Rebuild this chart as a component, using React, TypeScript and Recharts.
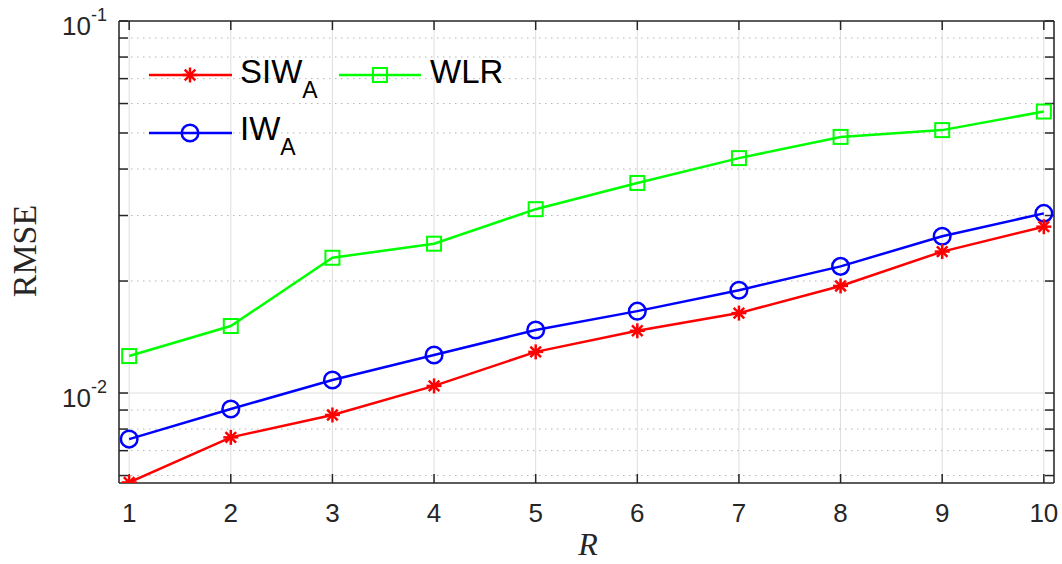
import React from "react";
import {
  CartesianGrid,
  Line,
  LineChart,
  ReferenceLine,
  XAxis,
  YAxis,
} from "recharts";

const rValues = [1, 2, 3, 4, 5, 6, 7, 8, 9, 10];
const siwA = [0.00575, 0.0076, 0.00873, 0.01045, 0.0129, 0.0147, 0.0164, 0.0194, 0.024, 0.028];
const iwA = [0.00752, 0.00906, 0.01084, 0.01265, 0.01477, 0.0166, 0.0189, 0.0219, 0.0264, 0.0304];
const wlr = [0.01257, 0.01514, 0.0231, 0.0252, 0.0312, 0.0367, 0.0428, 0.0488, 0.0509, 0.0571];

const yMajor = [0.01, 0.1];
const yMinor = [0.006, 0.007, 0.008, 0.009, 0.02, 0.03, 0.04, 0.05, 0.06, 0.07, 0.08, 0.09];
const yTicks = [...yMinor, ...yMajor].sort((a, b) => a - b);

const data = rValues.map((r, i) => ({ r, siw: siwA[i], iw: iwA[i], wlr: wlr[i] }));

const W = 1062;
const H = 564;
const AXIS = "#262626";
const SANS = "'Liberation Sans', Arial, Helvetica, sans-serif";
const SERIF = "'Liberation Serif', 'Times New Roman', serif";

const RED = "#ff0000";
const BLUE = "#0000ff";
const GREEN = "#00ff00";

function Star({ cx, cy, color }: { cx: number; cy: number; color: string }) {
  const a = 7.5;
  const d = 5.3;
  return (
    <g stroke={color} strokeWidth={2.5} strokeLinecap="butt">
      <line x1={cx - a} y1={cy} x2={cx + a} y2={cy} />
      <line x1={cx} y1={cy - a} x2={cx} y2={cy + a} />
      <line x1={cx - d} y1={cy - d} x2={cx + d} y2={cy + d} />
      <line x1={cx - d} y1={cy + d} x2={cx + d} y2={cy - d} />
    </g>
  );
}

function Ring({ cx, cy, color }: { cx: number; cy: number; color: string }) {
  return <circle cx={cx} cy={cy} r={8.3} fill="none" stroke={color} strokeWidth={2.5} />;
}

function Box({ cx, cy, color }: { cx: number; cy: number; color: string }) {
  return (
    <rect x={cx - 7} y={cy - 7} width={14} height={14} fill="none" stroke={color} strokeWidth={2} />
  );
}

const starDot = (p: any) => <Star key={`s${p.index}`} cx={p.cx} cy={p.cy} color={RED} />;
const ringDot = (p: any) => <Ring key={`c${p.index}`} cx={p.cx} cy={p.cy} color={BLUE} />;
const boxDot = (p: any) => <Box key={`b${p.index}`} cx={p.cx} cy={p.cy} color={GREEN} />;

function LeftTick(props: any) {
  const { x, y, payload } = props;
  const v = payload.value;
  const exp = Math.round(Math.log10(v));
  if (Math.abs(Math.pow(10, exp) - v) > 1e-9) return <g />;
  return (
    <text x={x} y={y + 14} textAnchor="end" fill={AXIS} fontFamily={SANS} fontSize={26}>
      <tspan>10</tspan>
      <tspan dy={-14} fontSize={18}>{String(exp)}</tspan>
    </text>
  );
}

function BottomTick(props: any) {
  const { x, y, payload } = props;
  return (
    <text x={x} y={y} textAnchor="middle" fill={AXIS} fontFamily={SANS} fontSize={26}>
      {payload.value}
    </text>
  );
}

const NoLabel = () => <g />;

function LegendOverlay() {
  return (
    <svg
      width={W}
      height={H}
      style={{ position: "absolute", left: 0, top: 0, pointerEvents: "none" }}
    >
      <line x1={149} y1={75} x2={232} y2={75} stroke={RED} strokeWidth={2.5} />
      <Star cx={190} cy={75} color={RED} />
      <text x={240} y={83} fontFamily={SANS} fontSize={33} fill="#000">
        SIW
        <tspan dy={15} fontSize={23}>A</tspan>
      </text>

      <line x1={339} y1={75} x2={421} y2={75} stroke={GREEN} strokeWidth={2.5} />
      <Box cx={380} cy={75} color={GREEN} />
      <text x={430} y={83} fontFamily={SANS} fontSize={33} fill="#000">
        WLR
      </text>

      <line x1={149} y1={133} x2={232} y2={133} stroke={BLUE} strokeWidth={2.5} />
      <Ring cx={190} cy={133} color={BLUE} />
      <text x={240} y={140} fontFamily={SANS} fontSize={33} fill="#000">
        IW
        <tspan dy={15} fontSize={23}>A</tspan>
      </text>
    </svg>
  );
}

export default function App() {
  return (
    <div style={{ position: "absolute", left: 0, top: 0, width: W, height: H, background: "#fff" }}>
      <LineChart width={W} height={H} data={data} margin={{ top: 20, right: 0, bottom: 0, left: 0 }}>
        <CartesianGrid vertical horizontal={false} stroke="#dedede" strokeWidth={1} />
        {yMinor.map((v) => (
          <ReferenceLine
            key={`m${v}`}
            y={v}
            stroke="#b4b4b4"
            strokeWidth={1}
            strokeDasharray="1.5 4.5"
          />
        ))}
        <ReferenceLine y={0.01} stroke="#dedede" strokeWidth={1} />

        <XAxis
          dataKey="r"
          type="number"
          domain={[0.9, 10.1]}
          ticks={rValues}
          interval={0}
          allowDataOverflow
          height={81}
          tickSize={-9}
          tickMargin={48}
          tick={<BottomTick />}
          stroke={AXIS}
          axisLine={{ stroke: AXIS, strokeWidth: 1.5 }}
          tickLine={{ stroke: AXIS, strokeWidth: 1.5 }}
        />
        <XAxis
          xAxisId="top"
          orientation="top"
          dataKey="r"
          type="number"
          domain={[0.9, 10.1]}
          ticks={rValues}
          interval={0}
          allowDataOverflow
          height={1}
          tickSize={-9}
          tick={<NoLabel />}
          axisLine={{ stroke: AXIS, strokeWidth: 1.5 }}
          tickLine={{ stroke: AXIS, strokeWidth: 1.5 }}
        />
        <YAxis
          type="number"
          scale="log"
          domain={[0.00573, 0.1]}
          ticks={yTicks}
          interval={0}
          allowDataOverflow
          width={119}
          tickSize={-9}
          tickMargin={21}
          tick={<LeftTick />}
          axisLine={{ stroke: AXIS, strokeWidth: 1.5 }}
          tickLine={{ stroke: AXIS, strokeWidth: 1.5 }}
        />
        <YAxis
          yAxisId="right"
          orientation="right"
          type="number"
          scale="log"
          domain={[0.00573, 0.1]}
          ticks={yTicks}
          interval={0}
          allowDataOverflow
          width={8}
          tickSize={-9}
          tick={<NoLabel />}
          axisLine={{ stroke: AXIS, strokeWidth: 1.5 }}
          tickLine={{ stroke: AXIS, strokeWidth: 1.5 }}
        />

        <Line
          dataKey="wlr"
          stroke={GREEN}
          strokeWidth={2.5}
          dot={boxDot}
          activeDot={false}
          isAnimationActive={false}
        />
        <Line
          dataKey="iw"
          stroke={BLUE}
          strokeWidth={2.5}
          dot={ringDot}
          activeDot={false}
          isAnimationActive={false}
        />
        <Line
          dataKey="siw"
          stroke={RED}
          strokeWidth={2.5}
          dot={starDot}
          activeDot={false}
          isAnimationActive={false}
        />

        <text
          x={24}
          y={251}
          transform="rotate(-90 24 251)"
          textAnchor="middle"
          dominantBaseline="central"
          fontFamily={SERIF}
          fontSize={34}
          fill={AXIS}
        >
          RMSE
        </text>
        <text
          x={588}
          y={555}
          textAnchor="middle"
          fontFamily={SERIF}
          fontStyle="italic"
          fontSize={32}
          fill={AXIS}
        >
          R
        </text>
      </LineChart>
      <LegendOverlay />
    </div>
  );
}
